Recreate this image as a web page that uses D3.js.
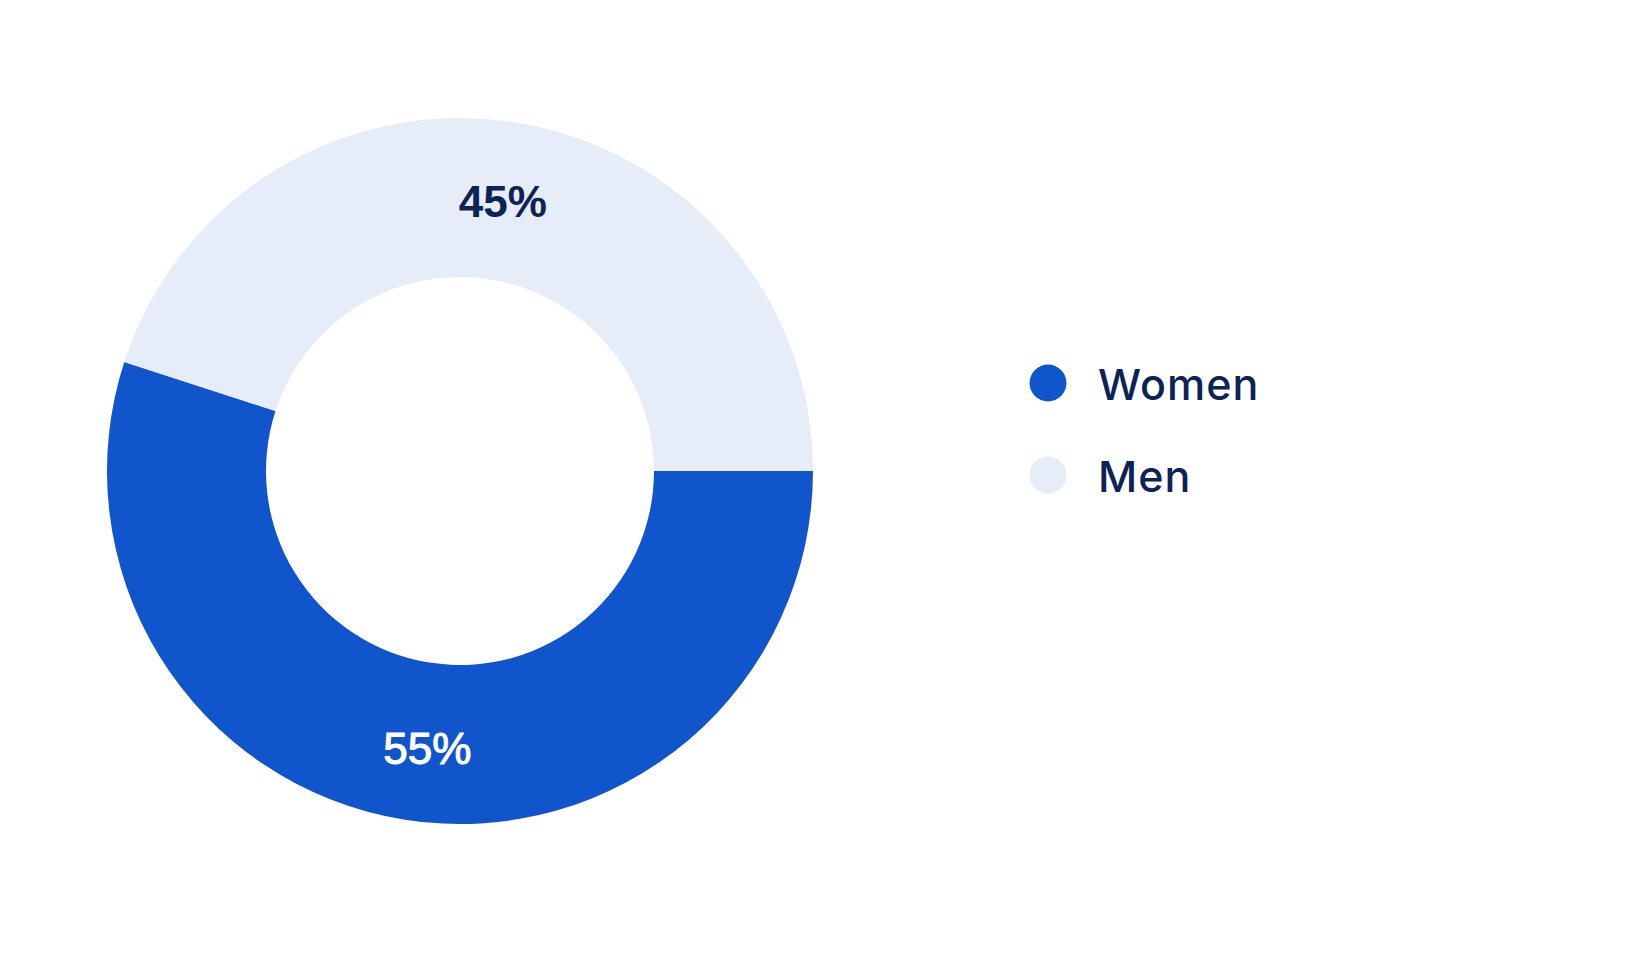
<!DOCTYPE html>
<html>
<head>
<meta charset="utf-8">
<script src="https://cdn.jsdelivr.net/npm/d3@7"></script>
<style>
  html, body { margin: 0; padding: 0; background: #ffffff; }
  svg { display: block; }
</style>
</head>
<body>
<svg id="chart" width="1646" height="956"></svg>
<script>
const categories = ["Women", "Men"];
const values = [55, 45];
const labels = ["55%", "45%"];

const colors = ["#1055cc", "#e6edf8"];
const labelColors = ["#ffffff", "#0c2356"];
const labelWeights = ["400", "700"];
const labelStroke = [1.1, 0];
const labelNudge = [[10, 7], [0, 0]];

const width = 1646, height = 956;
const cx = 460, cy = 471;
const outerR = 353, innerR = 194;

const svg = d3.select("#chart");
const data = categories.map((c, i) => ({ name: c, value: values[i], label: labels[i], i }));

const pie = d3.pie().value(d => d.value).sort(null)
  .startAngle(Math.PI / 2).endAngle(Math.PI / 2 + 2 * Math.PI);
const arc = d3.arc().innerRadius(innerR).outerRadius(outerR);

const g = svg.append("g").attr("transform", `translate(${cx},${cy})`);
const arcs = pie(data);

g.selectAll("path.slice").data(arcs).join("path")
  .attr("class", "slice")
  .attr("d", arc)
  .attr("fill", d => colors[d.data.i]);

g.selectAll("text.lbl").data(arcs).join("text")
  .attr("class", "lbl")
  .attr("transform", d => {
    const [x, y] = arc.centroid(d);
    const n = labelNudge[d.data.i];
    return `translate(${x + n[0]},${y + n[1]})`;
  })
  .attr("text-anchor", "middle")
  .attr("dy", "0.36em")
  .attr("font-family", "'Liberation Sans', Arial, Helvetica, sans-serif")
  .attr("font-size", 44)
  .attr("font-weight", d => labelWeights[d.data.i])
  .attr("fill", d => labelColors[d.data.i])
  .attr("stroke", d => labelColors[d.data.i])
  .attr("stroke-width", d => labelStroke[d.data.i])
  .attr("stroke-linejoin", "round")
  .text(d => d.data.label);

// Legend
const legendY = d3.scalePoint().domain(categories).range([383, 475]);
const legend = svg.append("g");
const items = legend.selectAll("g.item").data(data).join("g")
  .attr("class", "item")
  .attr("transform", d => `translate(1048,${legendY(d.name)})`);
items.append("circle").attr("r", 18.5).attr("fill", d => colors[d.i]);
items.append("text")
  .attr("x", 50)
  .attr("y", 17)
  .attr("font-family", "Inter, 'Liberation Sans', Arial, sans-serif")
  .attr("font-size", 43)
  .attr("font-weight", 500)
  .attr("letter-spacing", "1px")
  .attr("fill", "#0c2356")
  .text(d => d.name);
</script>
</body>
</html>
